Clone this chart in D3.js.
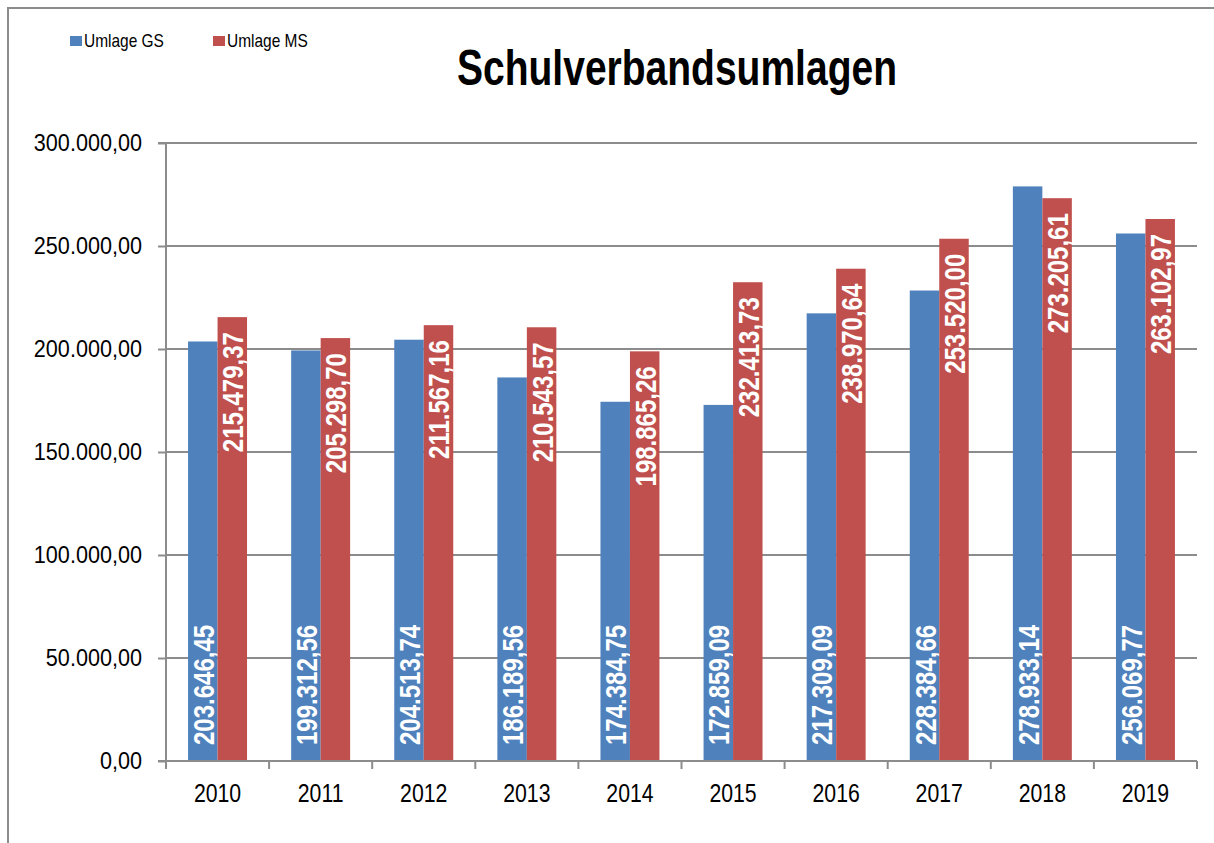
<!DOCTYPE html>
<html><head><meta charset="utf-8">
<script src="https://cdn.jsdelivr.net/npm/d3@7"></script>
<style>body{margin:0;background:#fff}</style>
</head><body>
<svg id="c" width="1214" height="843"></svg>
<script>
const years = ["2010","2011","2012","2013","2014","2015","2016","2017","2018","2019"];
const umlageGS = [203646.45,199312.56,204513.74,186189.56,174384.75,172859.09,217309.09,228384.66,278933.14,256069.77];
const umlageMS = [215479.37,205298.70,211567.16,210543.57,198865.26,232413.73,238970.64,253520.00,273205.61,263102.97];
const yTicks = [0,50000,100000,150000,200000,250000,300000];
const seriesNames = ["Umlage GS","Umlage MS"];
const colors = ["#4F81BD","#C0504D"];

const de = d3.formatLocale({decimal:",",thousands:".",grouping:[3],currency:["","€"]});
const fmt = de.format(",.2f");
const font = "'Liberation Sans',Arial,sans-serif";

const svg = d3.select("#c");
svg.append("path").attr("d","M8,843 V8 H1214").attr("fill","none").attr("stroke","#8c8c8c").attr("stroke-width",2);

const L=166,R=1197,T=143,B=761;
const x = d3.scaleBand().domain(years).range([L,R]).paddingInner(0).paddingOuter(0);
const y = d3.scaleLinear().domain([0,300000]).range([B,T]);
const barW = x.bandwidth()*0.286;
const off = (x.bandwidth()-2*barW)/2;

// gridlines
svg.append("g").selectAll("line").data(yTicks.slice(1)).join("line")
  .attr("x1",L).attr("x2",R).attr("y1",d=>y(d)).attr("y2",d=>y(d))
  .attr("stroke","#8c8c8c").attr("stroke-width",2);

// y axis
const ya = svg.append("g").attr("transform",`translate(${L},0)`).call(d3.axisLeft(y).tickValues(yTicks).tickFormat("").tickSize(8));
ya.select(".domain").attr("stroke","#8c8c8c").attr("stroke-width",2).attr("d",`M-8,${T}H0V${B}H-8`);
ya.selectAll(".tick line").attr("stroke","#8c8c8c").attr("stroke-width",2);
svg.append("g").selectAll("text").data(yTicks).join("text")
  .attr("transform",d=>`translate(${L-24},${y(d)+8}) scale(0.94,1)`)
  .attr("text-anchor","end").attr("font-family",font).attr("font-size",23).attr("fill","#000")
  .text(d=>fmt(d));

// bars
const data = years.map((yr,i)=>({yr,vals:[umlageGS[i],umlageMS[i]]}));
const g = svg.append("g");
data.forEach(d=>{
  d.vals.forEach((v,s)=>{
    const bx = x(d.yr)+off+s*barW;
    g.append("rect").attr("x",bx).attr("y",y(v)).attr("width",barW).attr("height",B-y(v)).attr("fill",colors[s]);
    const cx = bx+barW/2;
    const t = g.append("text").attr("font-family",font).attr("font-weight","bold")
        .attr("font-size",30).attr("fill","#fff").text(fmt(v));
    if(s===0){
      t.attr("transform",`translate(${cx+11},${B-16}) rotate(-90) scale(0.8,1)`).attr("text-anchor","start");
    } else {
      t.attr("transform",`translate(${cx+11},${y(v)+15}) rotate(-90) scale(0.8,1)`).attr("text-anchor","end");
    }
  });
});

// x axis
svg.append("line").attr("x1",L).attr("x2",R).attr("y1",B).attr("y2",B).attr("stroke","#8c8c8c").attr("stroke-width",2);
svg.append("g").selectAll("line").data(d3.range(years.length+1)).join("line")
  .attr("x1",i=>L+i*x.bandwidth()).attr("x2",i=>L+i*x.bandwidth())
  .attr("y1",B).attr("y2",B+8).attr("stroke","#8c8c8c").attr("stroke-width",2);
svg.append("g").selectAll("text").data(years).join("text")
  .attr("transform",d=>`translate(${x(d)+x.bandwidth()/2},802) scale(0.85,1)`)
  .attr("text-anchor","middle").attr("font-family",font).attr("font-size",25).attr("fill","#000")
  .text(d=>d);

// title
svg.append("text").attr("x",677).attr("y",85).attr("text-anchor","middle")
  .attr("font-family",font).attr("font-weight","bold").attr("font-size",50)
  .attr("textLength",440).attr("lengthAdjust","spacingAndGlyphs")
  .attr("fill","#000").text("Schulverbandsumlagen");

// legend
const legX=[70,213];
seriesNames.forEach((n,i)=>{
  svg.append("rect").attr("x",legX[i]).attr("y",36).attr("width",12).attr("height",10).attr("fill",colors[i]);
  svg.append("text").attr("transform",`translate(${legX[i]+14},47) scale(0.86,1)`)
    .attr("font-family",font).attr("font-size",18).attr("fill","#000").text(n);
});
</script>
</body></html>
